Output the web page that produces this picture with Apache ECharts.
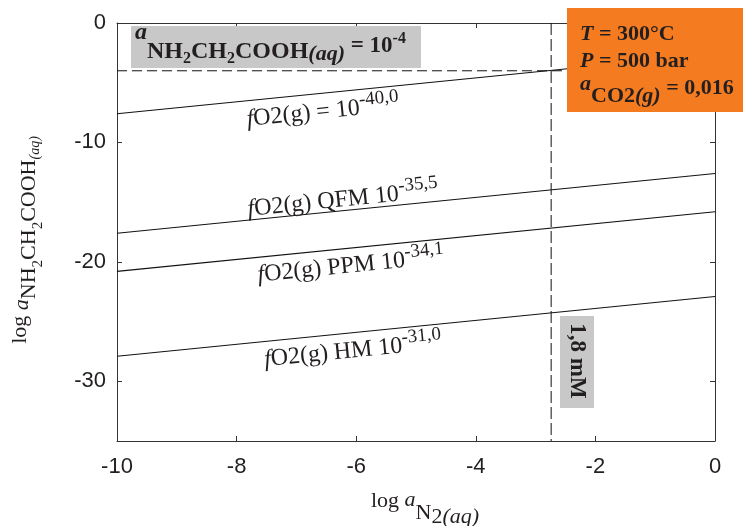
<!DOCTYPE html>
<html>
<head>
<meta charset="utf-8">
<script src="https://cdn.jsdelivr.net/npm/echarts@6/dist/echarts.min.js"></script>
<style>html,body{margin:0;padding:0;background:#fff}#c{width:743px;height:526px}</style>
</head>
<body>
<div id="c"></div>
<script>
// ---- data ----
const xTickValues = [-10, -8, -6, -4, -2, 0];
const yTickValues = [-30, -20, -10, 0];
const xEnds = [-10, 0];
const lineFO2_40 = [-7.6, -2.6];
const lineQFM = [-17.6, -12.6];
const linePPM = [-20.8, -15.8];
const lineHM = [-27.9, -22.9];
const glycineLimit = -4;     // log a glycine = -4
const n2Limit = -2.74;       // 1.8 mM N2
const xRange = [-10, 0];
const yRange = [-35, 0];

const SERIF = '"Liberation Serif", "Times New Roman", serif';
const SANS = '"Liberation Sans", Arial, sans-serif';
const INK = '#231f20';

function pairs(ys) { return xEnds.map((x, i) => [x, ys[i]]); }
function tok(fs, c, o) {
  return Object.assign({fontSize: fs, lineHeight: 2 * c, height: 2 * c, verticalAlign: 'top',
    fontFamily: SERIF, fill: INK, color: INK}, o || {});
}
const B = {fontWeight: 'bold'};
const BI = {fontWeight: 'bold', fontStyle: 'italic'};
const I = {fontStyle: 'italic'};

const chart = echarts.init(document.getElementById('c'));

const axisLineStyle = {color: '#333', width: 1};
function solid(ys) {
  return {type: 'line', data: pairs(ys), symbol: 'none', silent: true,
    lineStyle: {color: '#111', width: 1.1}, z: 3};
}

const option = {
  animation: false,
  backgroundColor: '#fff',
  grid: {left: 117, right: 28, top: 23, bottom: 85},
  xAxis: [{
    type: 'value', min: xRange[0], max: xRange[1], interval: 2, position: 'bottom',
    axisLine: {show: true, lineStyle: axisLineStyle, onZero: false},
    axisTick: {show: true, inside: true, length: 5, lineStyle: axisLineStyle},
    axisLabel: {fontFamily: SANS, fontSize: 22, color: INK, margin: 15,
      customValues: xTickValues},
    splitLine: {show: false}
  }, {
    type: 'value', min: xRange[0], max: xRange[1], interval: 2, position: 'top',
    axisLine: {show: true, lineStyle: axisLineStyle, onZero: false},
    axisTick: {show: true, inside: true, length: 5, lineStyle: axisLineStyle},
    axisLabel: {show: false}, splitLine: {show: false}
  }],
  yAxis: [{
    type: 'value', min: yRange[0], max: yRange[1], position: 'left',
    axisLine: {show: true, lineStyle: axisLineStyle, onZero: false},
    axisTick: {show: true, inside: true, length: 5, lineStyle: axisLineStyle, customValues: yTickValues},
    axisLabel: {fontFamily: SANS, fontSize: 22, color: INK, margin: 11, customValues: yTickValues},
    splitLine: {show: false}
  }, {
    type: 'value', min: yRange[0], max: yRange[1], position: 'right',
    axisLine: {show: true, lineStyle: axisLineStyle, onZero: false},
    axisTick: {show: true, inside: true, length: 5, lineStyle: axisLineStyle, customValues: yTickValues},
    axisLabel: {show: false}, splitLine: {show: false}
  }],
  series: [
    solid(lineFO2_40), solid(lineQFM), solid(linePPM), solid(lineHM),
    {type: 'line', data: [[xRange[0], glycineLimit], [xRange[1], glycineLimit]], symbol: 'none', silent: true,
      lineStyle: {color: '#111', width: 1, type: [10, 5]}, z: 3},
    {type: 'line', data: [[n2Limit, yRange[1]], [n2Limit, yRange[0]]], symbol: 'none', silent: true,
      lineStyle: {color: '#111', width: 1, type: [12, 4]}, z: 3}
  ]
};
chart.setOption(option);

const rot = Math.atan2(5.975, 59.8);
function lineLabel(cx, cy, body) {
  return {type: 'text', x: cx, y: cy, rotation: rot, z: 50,
    style: {text: '{f|f}{n|' + body[0] + '}{s|' + body[1] + '}', align: 'center', verticalAlign: 'middle',
      rich: {f: tok(24, 18, I), n: tok(24, 18), s: tok(19, 10)}}};
}

chart.setOption({
  graphic: [
    // top-left gray label
    {type: 'rect', shape: {x: 131, y: 26, width: 290, height: 42}, style: {fill: '#c8c8c8'}, z: 40},
    {type: 'text', x: 135, y: 0, z: 50,
      style: {text: '{a|a}{m|NH}{t|2}{m|CH}{t|2}{m|COOH}{q|(aq)}{e| = 10}{p|-4}', align: 'left', verticalAlign: 'top',
        rich: {a: tok(24, 33, BI), m: tok(24, 52, B), t: tok(16, 59, B), q: tok(22, 54, BI),
          e: tok(23, 46.5, B), p: tok(16, 39, B)}}},
    // orange conditions box
    {type: 'rect', shape: {x: 567, y: 8, width: 190, height: 104}, style: {fill: '#f47b20'}, z: 40},
    {type: 'text', x: 580, y: 0, z: 50,
      style: {text: '{i|T}{b| = 300°C}', align: 'left', verticalAlign: 'top',
        rich: {i: tok(22, 34.5, BI), b: tok(22, 34.5, B)}}},
    {type: 'text', x: 580, y: 0, z: 50,
      style: {text: '{i|P}{b| = 500 bar}', align: 'left', verticalAlign: 'top',
        rich: {i: tok(22, 61.5, BI), b: tok(22, 61.5, B)}}},
    {type: 'text', x: 580, y: 0, z: 50,
      style: {text: '{a|a}{c|CO2}{g|(g)}{b| = 0,016}', align: 'left', verticalAlign: 'top',
        rich: {a: tok(22, 84.5, BI), c: tok(22, 96.5, B), g: tok(22, 96.5, BI), b: tok(22, 88.5, B)}}},
    // 1,8 mM box
    {type: 'rect', shape: {x: 560, y: 316, width: 34, height: 92}, style: {fill: '#c8c8c8'}, z: 40},
    {type: 'text', x: 577, y: 361, rotation: -Math.PI / 2, z: 50,
      style: {text: '1,8 mM', align: 'center', verticalAlign: 'middle', fill: INK,
        font: 'bold 23px ' + SERIF}},
    // line labels
    lineLabel(323, 112, ['O2(g) = 10', '-40,0']),
    lineLabel(343, 200, ['O2(g) QFM 10', '-35,5']),
    lineLabel(351, 266, ['O2(g) PPM 10', '-34,1']),
    lineLabel(353, 351, ['O2(g) HM 10', '-31,0']),
    // axis titles
    {type: 'text', x: 425, y: 480, z: 50,
      style: {text: '{l|log }{a|a}{n|N}{t|2}{q|(aq)}', align: 'center', verticalAlign: 'top',
        rich: {l: tok(22, 21), a: tok(22, 20, I), n: tok(22, 33), t: tok(22, 37.5), q: tok(22, 37.5, I)}}},
    {type: 'text', x: 5, y: 240, rotation: Math.PI / 2, z: 50,
      style: {text: '{l|log }{a|a}{n|NH}{t|2}{n|CH}{t|2}{n|COOH}{q|(aq)}', align: 'center', verticalAlign: 'top',
        rich: {l: tok(22, 15), a: tok(22, 17, I), n: tok(22, 24), t: tok(15, 33), q: tok(14, 30, I)}}}
  ]
});
</script>
</body>
</html>
